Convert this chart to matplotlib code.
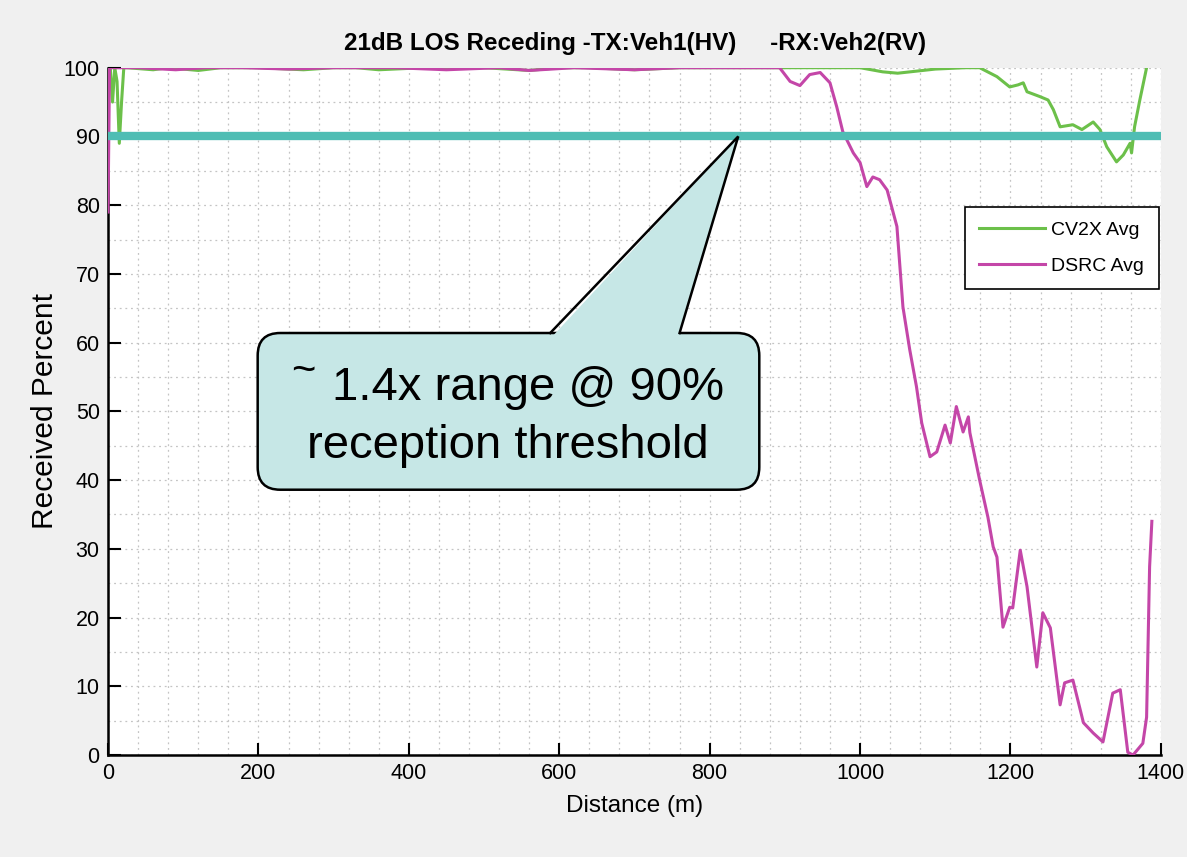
import numpy as np
import matplotlib.pyplot as plt
from matplotlib.patches import FancyBboxPatch, Polygon
from matplotlib.ticker import MultipleLocator

plt.rcParams['font.family'] = ['Liberation Sans', 'DejaVu Sans']

# CV2X average received percent vs distance (m)
cv2x_x = [0, 3, 6, 9, 12, 15, 18, 21, 25, 60, 80, 120, 150, 200, 260, 300, 330, 360, 420,
          500, 560, 600, 640, 700, 760, 820, 880, 940, 1000, 1030, 1050, 1075, 1100, 1140, 1159,
          1182, 1199, 1210, 1217, 1222, 1239, 1250, 1257, 1266, 1283, 1295, 1310, 1319, 1328,
          1341, 1350, 1359, 1361, 1365, 1372, 1381]
cv2x_y = [100, 100, 95, 100, 98, 89, 95, 100, 100, 99.7, 100, 99.6, 100, 100, 99.7, 100, 100,
          99.7, 100, 100, 99.6, 100, 100, 99.7, 100, 100, 100, 100, 100, 99.4, 99.2, 99.5, 99.8, 100, 100,
          98.7, 97.2, 97.5, 97.8, 96.5, 95.8, 95.3, 93.9, 91.4, 91.7, 91, 92.1, 91, 88.5,
          86.3, 87.3, 89, 87.6, 91.4, 95.3, 100]

# DSRC average received percent vs distance (m)
dsrc_x = [0, 2, 4, 40, 90, 130, 180, 240, 300, 380, 450, 520, 560, 620, 700, 760, 840, 893,
          907, 920, 933, 947, 960, 969, 977, 991, 1000, 1009, 1017, 1026, 1036, 1049, 1057,
          1066, 1075, 1082, 1093, 1102, 1113, 1120, 1128, 1137, 1144, 1146, 1159, 1170, 1177,
          1182, 1190, 1199, 1203, 1213, 1222, 1235, 1243, 1253, 1266, 1272, 1283, 1297, 1310,
          1323, 1336, 1346, 1356, 1363, 1376, 1381, 1385, 1388]
dsrc_y = [79, 100, 100, 100, 99.7, 100, 100, 99.8, 100, 100, 99.7, 100, 99.6, 100, 99.7, 100,
          100, 100, 98, 97.4, 99, 99.3, 97.8, 94.3, 90.7, 87.6, 86.2, 82.7, 84.1, 83.7, 82.2,
          76.9, 65.2, 59, 53.6, 48.3, 43.4, 44.1, 48, 45.4, 50.7, 47, 49.2, 46.9, 40, 34.6,
          30.3, 28.8, 18.6, 21.5, 21.4, 29.8, 24.5, 12.8, 20.7, 18.5, 7.3, 10.5, 10.9, 4.7,
          3.2, 1.9, 9, 9.5, 0.4, 0, 1.7, 5.5, 27.4, 34]

threshold = 90
xlim = (0, 1400)
ylim = (0, 100)

title = "21dB LOS Receding -TX:Veh1(HV)     -RX:Veh2(RV)"
callout_lines = ["1.4x range @ 90%", "reception threshold"]

fig = plt.figure(figsize=(11.87, 8.57), dpi=100, facecolor="#f0f0f0")
ax = fig.add_axes([0.091, 0.119, 0.887, 0.802])
ax.set_facecolor("white")

ax.plot(cv2x_x, cv2x_y, color="#6cc04a", lw=2.2, label="CV2X Avg", zorder=3)
ax.plot(dsrc_x, dsrc_y, color="#c446a8", lw=2.2, label="DSRC Avg", zorder=3)
ax.plot(xlim, [threshold, threshold], color="#4fbdb4", lw=6, zorder=4)

ax.set_xlim(*xlim)
ax.set_ylim(*ylim)
ax.xaxis.set_major_locator(MultipleLocator(200))
ax.xaxis.set_minor_locator(MultipleLocator(40))
ax.yaxis.set_major_locator(MultipleLocator(10))
ax.yaxis.set_minor_locator(MultipleLocator(5))
ax.grid(which="both", ls=(0, (1.5, 3)), color="#c4c4c4", lw=0.9)
ax.tick_params(which="major", direction="in", length=9, width=1.5, labelsize=15.5, pad=6)
ax.tick_params(which="minor", length=0)
for s in ["top", "right"]:
    ax.spines[s].set_visible(False)
for s in ["left", "bottom"]:
    ax.spines[s].set_linewidth(1.8)

ax.set_xlabel("Distance (m)", fontsize=17.5, labelpad=8)
ax.set_ylabel("Received Percent", fontsize=21.5, labelpad=3)
fig.text(0.535, 0.949, title, ha="center", va="center", fontsize=17.5, fontweight="bold")

leg = ax.legend(loc="upper right", bbox_to_anchor=(0.998, 0.798), fontsize=14,
                fancybox=False, edgecolor="black", framealpha=1, handlelength=3.35,
                handletextpad=0.35, borderpad=0.75, labelspacing=0.95, borderaxespad=0)
leg.get_frame().set_linewidth(1.2)
leg.set_zorder(6)

# callout box with pointer to the threshold line
fig.canvas.draw()
bb = ax.get_window_extent()
aspect = (bb.width / 1400) / (bb.height / 100)
bx0, bx1, by0, by1 = 199, 866, 38.6, 61.4
pad = 30
box = FancyBboxPatch((bx0 + pad, by0 + pad * aspect), bx1 - bx0 - 2 * pad, by1 - by0 - 2 * pad * aspect,
                     boxstyle=f"round,pad={pad},rounding_size={pad}", mutation_aspect=aspect,
                     facecolor="#c6e7e6", edgecolor="black", lw=1.8, zorder=7)
ax.add_patch(box)
tip = (838, threshold)
base_l, base_r = 588, 760
tri = Polygon([(base_l + 2, by1 - 0.6), (tip[0], tip[1]), (base_r - 2, by1 - 0.6)], closed=True,
              facecolor="#c6e7e6", edgecolor="none", zorder=8)
ax.add_patch(tri)
ax.plot([base_l, tip[0], base_r], [by1, tip[1], by1], color="black", lw=1.8, zorder=9,
        solid_joinstyle="miter")
ax.text(559, 51.7, callout_lines[0], ha="center", va="baseline", fontsize=34, zorder=10)
ax.text(532, 43.2, callout_lines[1], ha="center", va="baseline", fontsize=34, zorder=10)
ax.text(260, 55.7, "~", ha="center", va="center", fontsize=30, zorder=10)

fig.savefig("out.png", dpi=100, facecolor=fig.get_facecolor())
